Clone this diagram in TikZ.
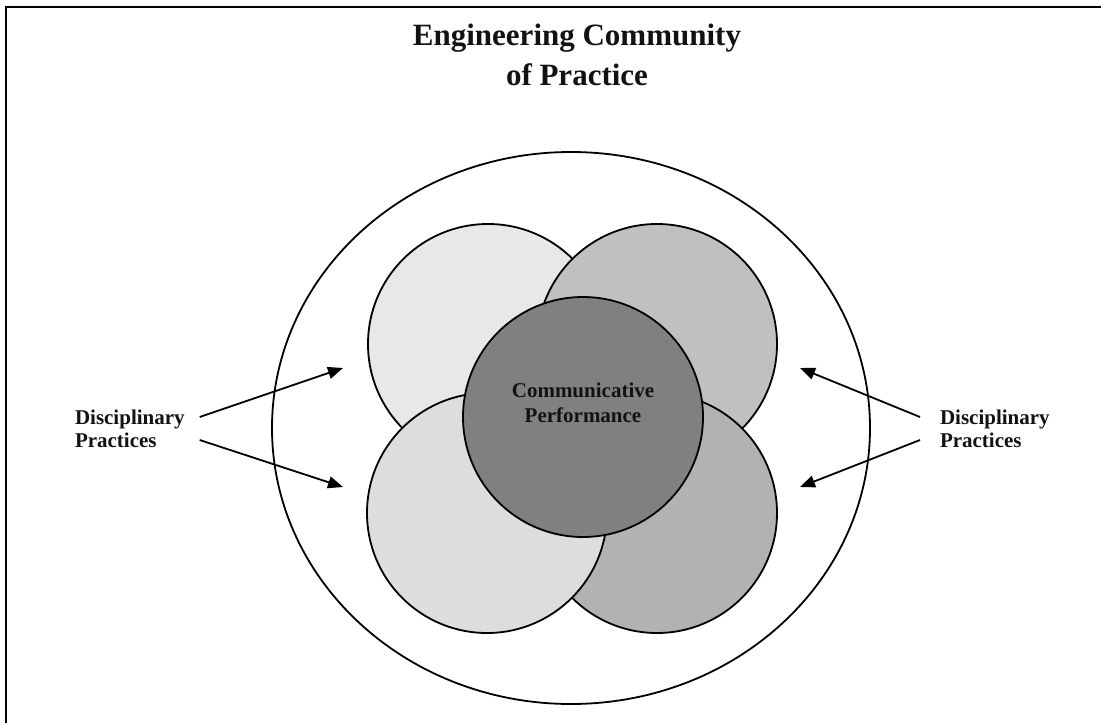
\documentclass[tikz,border=0pt]{standalone}
\usepackage{fontspec}
\setmainfont{Liberation Serif}
\usepackage{tikz}
\usetikzlibrary{shapes.geometric}
\usetikzlibrary{arrows.meta}
\definecolor{discTL}{HTML}{E8E8E8}
\definecolor{discTR}{HTML}{C0C0C0}
\definecolor{discBL}{HTML}{DDDDDD}
\definecolor{discBR}{HTML}{B2B2B2}
\definecolor{discC}{HTML}{808080}
\tikzstyle{disc}=[draw, circle, line width=1.8pt, inner sep=0, outer sep=0, minimum size=240pt]
\tikzstyle{community}=[draw, ellipse, line width=1.8pt, inner sep=0, outer sep=0,
                       minimum width=598pt, minimum height=552pt]
\tikzstyle{lbl}=[inner sep=0, outer sep=0, align=left, text=black!93,
                 font=\fontsize{21}{23}\selectfont\bfseries]
\tikzstyle{pointer}=[line width=1.8pt, -{Triangle[length=15pt, width=12pt]}]
\tikzstyle{venn}=[x=1pt, y=-1pt,
                  % one unit per pixel, y running down the page
                  every node/.style={inner sep=0, outer sep=0}]

\begin{document}
\begin{tikzpicture}[venn]
    \useasboundingbox (0, 0) rectangle (1101, 723);
    \clip (0, 0) rectangle (1101, 723);
    \draw[line width=2.2pt] (6, 7) rectangle (1112, 740);

    \node[align=center, text=black!93, font=\fontsize{31}{40}\selectfont\bfseries]
        (title) at (577, 55) {Engineering Community\\of Practice};

    \node[community] (cop) at (571, 428) {};

    % the four practices, then the shared core on top
    \node[disc, fill=discTL] (dTL) at (488, 344) {};
    \node[disc, fill=discTR] (dTR) at (657, 344) {};
    \node[disc, fill=discBR] (dBR) at (657, 513) {};
    \node[disc, fill=discBL] (dBL) at (487, 513) {};
    \node[disc, fill=discC]  (core) at (583, 417) {};
    \node[lbl, align=center, font=\fontsize{21}{25}\selectfont\bfseries]
        (coretext) at ([yshift=14pt]core.center) {Communicative\\Performance};

    \node[lbl, anchor=west] (practL) at (75, 429) {Disciplinary\\Practices};
    \node[lbl, anchor=west] (practR) at (940, 429) {Disciplinary\\Practices};

    \coordinate (tipLA) at (343, 368);
    \coordinate (tipLB) at (343, 487);
    \coordinate (tipRA) at (800, 368);
    \coordinate (tipRB) at (800, 487);

    \draw[pointer] ([xshift=15pt, yshift=12pt]practL.east) -- (tipLA);
    \draw[pointer] ([xshift=15pt, yshift=-11pt]practL.east) -- (tipLB);
    \draw[pointer] ([xshift=-20pt, yshift=12pt]practR.west) -- (tipRA);
    \draw[pointer] ([xshift=-20pt, yshift=-11pt]practR.west) -- (tipRB);
\end{tikzpicture}
\end{document}
